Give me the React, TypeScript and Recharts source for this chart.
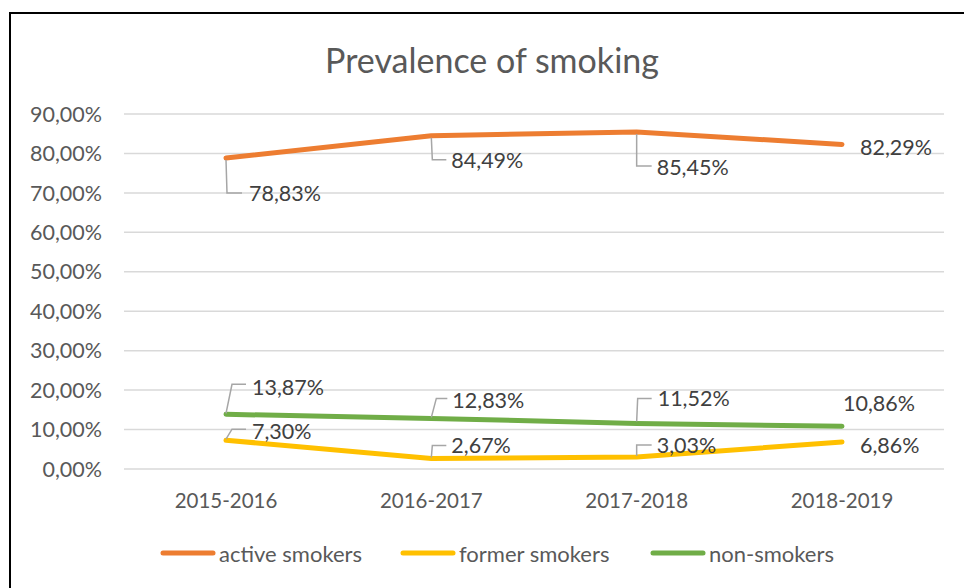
import React from 'react';
import { LineChart, Line, XAxis, YAxis, CartesianGrid, LabelList } from 'recharts';

const categories = ['2015-2016', '2016-2017', '2017-2018', '2018-2019'];
const activeSmokers = [0.7883, 0.8449, 0.8545, 0.8229];
const formerSmokers = [0.073, 0.0267, 0.0303, 0.0686];
const nonSmokers = [0.1387, 0.1283, 0.1152, 0.1086];
const yTicks = [0, 0.1, 0.2, 0.3, 0.4, 0.5, 0.6, 0.7, 0.8, 0.9];

const data = categories.map((c, i) => ({
  year: c,
  active: activeSmokers[i],
  former: formerSmokers[i],
  non: nonSmokers[i],
}));

const FONT = 'Lato, "Open Sans", sans-serif';
const AXIS_TEXT = '#595959';
const LABEL_TEXT = '#404040';
const LEADER = '#a6a6a6';

const pct = (v: number) => (v * 100).toFixed(2).replace('.', ',') + '%';

// label placement relative to each point: leader polyline + text anchor (left/middle)
type Place = { leader?: number[][]; text: number[] };
const activePlaces: Place[] = [
  { leader: [[0, 2], [1, 35], [16, 35]], text: [23, 35] },
  { leader: [[0, 2], [1, 24], [15, 24]], text: [20, 25] },
  { leader: [[0, 2], [0, 34], [15, 34]], text: [20, 35] },
  { text: [18, 3] },
];
const nonPlaces: Place[] = [
  { leader: [[0, -1], [6, -30], [20, -30]], text: [26, -27] },
  { leader: [[0, -1], [5, -20], [16, -20]], text: [21, -18] },
  { leader: [[0, -2], [1, -25], [15, -25]], text: [21, -25] },
  { text: [1, -23] },
];
const formerPlaces: Place[] = [
  { leader: [[0, -1], [6, -11], [20, -11]], text: [26, -9] },
  { leader: [[0, -1], [1, -13], [15, -13]], text: [20, -13] },
  { leader: [[0, -1], [0, -12], [15, -12]], text: [20, -12] },
  { text: [18, 3] },
];

const makeLabel = (places: Place[]) => (props: any) => {
  const { x, y, value, index } = props;
  const p = places[index];
  if (!p || x == null || y == null) return null;
  return (
    <g>
      {p.leader && (
        <polyline
          points={p.leader.map(([dx, dy]) => `${x + dx},${y + dy}`).join(' ')}
          fill="none"
          stroke={LEADER}
          strokeWidth={1.5}
        />
      )}
      <text
        x={x + p.text[0]}
        y={y + p.text[1]}
        dy="0.36em"
        fill={LABEL_TEXT}
        fontSize={21.5}
        fontFamily={FONT}
      >
        {pct(value)}
      </text>
    </g>
  );
};

const series = [
  { key: 'active', name: 'active smokers', color: '#ED7D31', places: activePlaces },
  { key: 'former', name: 'former smokers', color: '#FFC000', places: formerPlaces },
  { key: 'non', name: 'non-smokers', color: '#70AD47', places: nonPlaces },
];

const legendX = [160, 400, 650];

export default function App() {
  return (
    <div style={{ position: 'absolute', left: 0, top: 0, width: 964, height: 588, overflow: 'hidden', background: '#fff' }}>
      <div style={{ position: 'absolute', left: 9, top: 12, width: 980, height: 600, border: '2px solid #000', boxSizing: 'border-box' }} />
      <div style={{ position: 'absolute', left: 0, top: 39, width: 984, textAlign: 'center', fontFamily: FONT, fontSize: 34, color: AXIS_TEXT }}>
        Prevalence of smoking
      </div>
      <div style={{ position: 'absolute', left: 0, top: 0 }}>
        <LineChart width={964} height={588} data={data} margin={{ top: 114, right: 20, bottom: 89, left: 0 }}>
          <CartesianGrid vertical={false} stroke="#d9d9d9" strokeWidth={1.5} />
          <XAxis
            dataKey="year"
            axisLine={false}
            tickLine={false}
            height={30}
            padding={{ left: 102, right: 102 }}
            tickSize={0}
            tickMargin={24}
            tick={{ fill: AXIS_TEXT, fontSize: 20.5, fontFamily: FONT }}
          />
          <YAxis
            width={124}
            domain={[0, 0.9]}
            ticks={yTicks}
            axisLine={false}
            tickLine={false}
            tickSize={0}
            tickMargin={22}
            tickFormatter={pct}
            tick={{ fill: AXIS_TEXT, fontSize: 21.5, fontFamily: FONT }}
          />
          {series.map(s => (
            <Line
              key={s.key}
              type="linear"
              dataKey={s.key}
              name={s.name}
              stroke={s.color}
              strokeWidth={5}
              strokeLinecap="round"
              strokeLinejoin="round"
              dot={false}
              activeDot={false}
              isAnimationActive={false}
            >
              <LabelList dataKey={s.key} content={makeLabel(s.places)} />
            </Line>
          ))}
        </LineChart>
      </div>
      {series.map((s, i) => (
        <div key={s.key} style={{ position: 'absolute', left: legendX[i], top: 540, height: 26, display: 'flex', alignItems: 'center', fontFamily: FONT, fontSize: 22, color: AXIS_TEXT }}>
          <svg width={56} height={10} style={{ marginRight: 3 }}>
            <line x1={3} y1={5} x2={53} y2={5} stroke={s.color} strokeWidth={5} strokeLinecap="round" />
          </svg>
          {s.name}
        </div>
      ))}
    </div>
  );
}
